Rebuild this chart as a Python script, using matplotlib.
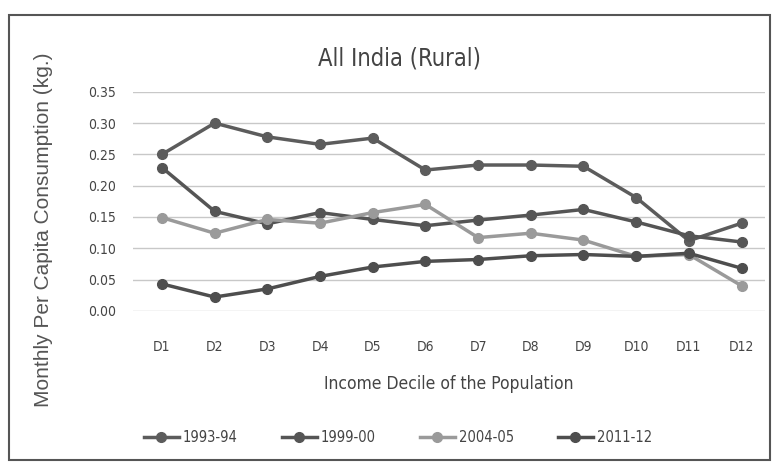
import matplotlib.pyplot as plt
from matplotlib.patches import Rectangle

deciles = ["D1", "D2", "D3", "D4", "D5", "D6", "D7", "D8", "D9", "D10", "D11", "D12"]
years = ["1993-94", "1999-00", "2004-05", "2011-12"]

y1993 = [0.250, 0.300, 0.278, 0.266, 0.276, 0.225, 0.233, 0.233, 0.231, 0.181, 0.112, 0.140]
y1999 = [0.229, 0.159, 0.139, 0.157, 0.146, 0.136, 0.145, 0.153, 0.162, 0.142, 0.120, 0.110]
y2004 = [0.149, 0.124, 0.146, 0.140, 0.157, 0.170, 0.117, 0.124, 0.113, 0.087, 0.090, 0.040]
y2011 = [0.043, 0.022, 0.035, 0.055, 0.070, 0.079, 0.082, 0.088, 0.090, 0.087, 0.092, 0.068]

colors = ["#5c5c5c", "#555555", "#9a9a9a", "#4e4e4e"]
txt = "#444444"
cond = dict(family="DejaVu Sans", stretch="condensed")

fig = plt.figure(figsize=(7.73, 4.66), dpi=100)
ax = fig.add_axes([0.172, 0.333, 0.818, 0.47])

x = range(len(deciles))
for vals, label, c in zip([y1993, y1999, y2004, y2011], years, colors):
    ax.plot(x, vals, color=c, lw=2.5, marker="o", ms=7, label=label)

ax.set_xlim(-0.55, 11.45)
ax.set_ylim(0, 0.35)
ax.set_yticks([0.00, 0.05, 0.10, 0.15, 0.20, 0.25, 0.30, 0.35])
ax.set_yticklabels(["%.2f" % v for v in ax.get_yticks()], fontsize=10, color=txt, **cond)
ax.set_xticks(list(x))
ax.set_xticklabels(deciles, fontsize=10, color=txt, **cond)
ax.tick_params(axis="x", length=0, pad=21)
ax.tick_params(axis="y", length=0, pad=12)
ax.grid(axis="y", color="#c8c8c8", lw=1)
for s in ax.spines.values():
    s.set_visible(False)

ax.set_xlabel("Income Decile of the Population", fontsize=12.5, color=txt, labelpad=15, **cond)
fig.text(0.056, 0.508, "Monthly Per Capita Consumption (kg.)", rotation=90, ha="center", va="center",
         fontsize=15, color="#555555", family="Liberation Sans")
fig.text(0.517, 0.875, "All India (Rural)", ha="center", va="center", fontsize=17, color=txt, **cond)

leg = fig.legend(loc="center", bbox_to_anchor=(0.515, 0.062), ncol=4, frameon=False,
                 prop={"size": 10.5, **cond}, handlelength=2.4, columnspacing=3.0, handletextpad=0.3)
for t in leg.get_texts():
    t.set_color(txt)

fig.patches.append(Rectangle((0.011, 0.013), 0.985, 0.955, transform=fig.transFigure,
                             fill=False, ec="#555555", lw=1.5))

fig.savefig("out.png", dpi=100)
